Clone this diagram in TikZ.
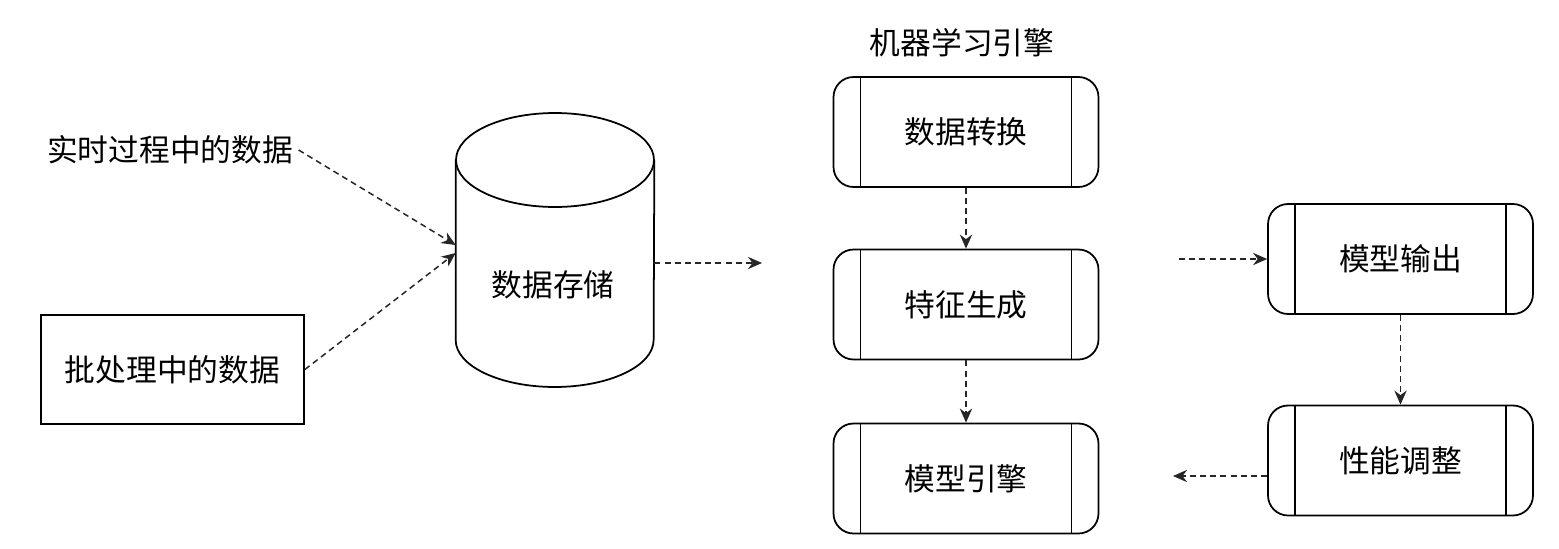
\documentclass[tikz,border=0pt]{standalone}
\usepackage{fontspec}
\newfontfamily\cjk{Noto Sans CJK SC}
\usetikzlibrary{shapes.geometric,arrows.meta,positioning}

\tikzset{
  txt/.style={font=\cjk\fontsize{17.5pt}{20pt}\selectfont, inner sep=3pt},
  procbox/.style={txt, draw, line width=1pt, rounded corners=0.4cm,
    minimum width=5.3cm, minimum height=2.2cm,
    path picture={
      \draw[line width=1pt] ([xshift=0.54cm]path picture bounding box.north west)
        -- ([xshift=0.54cm]path picture bounding box.south west);
      \draw[line width=1pt] ([xshift=-0.54cm]path picture bounding box.north east)
        -- ([xshift=-0.54cm]path picture bounding box.south east);}},
  flow/.style={black!85, line width=0.85pt, dash pattern=on 3.4pt off 2.4pt,
    -{Stealth[length=8pt,width=7pt]}}
}

\begin{document}
\begin{tikzpicture}[x=0.02cm, y=-0.02cm]
  \useasboundingbox (0,0) rectangle (1559,548);

  % Sources
  \node[txt] (realtime) at (170,150) {实时过程中的数据};
  \node[txt, draw, line width=1pt, minimum width=5.26cm, minimum height=2.18cm]
    (batch) at (172.5,369.5) {批处理中的数据};

  % Storage (cylinder drawn round its node)
  \node[minimum width=3.96cm, minimum height=5.5cm, inner sep=0] (store) at (555,250.5) {};
  \node[txt] (storetxt) at (553,285) {数据存储};
  \draw[line width=1pt] (store.west |- 0,160) -- (store.west |- 0,340)
    arc[start angle=180, end angle=360, x radius=1.98cm, y radius=0.94cm]
    -- (store.east |- 0,160);
  \draw[line width=1pt] (555,160) ellipse [x radius=1.98cm, y radius=0.94cm];

  % Machine learning engine
  \node[txt] (engine) at (962,43) {机器学习引擎};
  \node[procbox] (trans) at (966,132) {数据转换};
  \node[procbox] (feat) at (966,304.5) {特征生成};
  \node[procbox] (model) at (966,478.5) {模型引擎};

  % Output side
  \node[procbox] (out) at (1400.5,259) {模型输出};
  \node[procbox] (tune) at (1400.5,460.5) {性能调整};

  % Free ends
  \coordinate (storeend) at (762,263);
  \coordinate (outstart) at (1179,259);
  \coordinate (back) at (1173,476);

  % Connectors
  \draw[flow] (realtime.east) -- ([yshift=0.11cm]store.west);
  \draw[flow] (batch.east) -- ([yshift=-0.05cm]store.west);
  \draw[flow] (store.east |- storeend) -- (storeend);
  \draw[flow] (trans.south) -- (feat.north);
  \draw[flow] (feat.south) -- (model.north);
  \draw[flow] (outstart) -- (out.west);
  \draw[flow] (out.south) -- (tune.north);
  \draw[flow] (tune.west |- back) -- (back);
\end{tikzpicture}
\end{document}
